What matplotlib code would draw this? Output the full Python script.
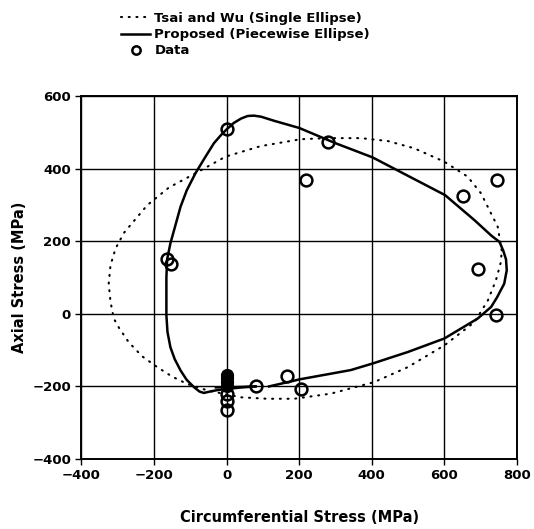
#!/usr/bin/env python
# coding:utf-8

"""
failure envelope: Tsai-Wu single ellipse vs proposed piecewise ellipse
"""

import matplotlib
matplotlib.use("Agg")
import matplotlib.pyplot as plt

# Tsai and Wu (single ellipse)
tsai_x = [758, 747, 701, 664, 600, 517, 444, 370, 278, 204, 94, -3, -86, -159,
          -219, -283, -306, -320, -325, -320, -311, -297, -270, -233, -191,
          -150, -109, -53, 39, 112, 186, 287, 407, 499, 600, 683, 720, 742,
          756, 758]
tsai_y = [175, 240, 332, 378, 419, 456, 476, 484, 484, 481, 462, 433, 387, 348,
          299, 223, 180, 134, 83, 33, -13, -38, -78, -117, -147,
          -173, -193, -211, -230, -234, -234, -220, -188, -147, -87, -23, 37, 92,
          143, 175]

# proposed (piecewise ellipse)
prop_x = [80, 40, 0, -25, -45, -63, -75, -90, -110, -127, -143, -155, -163,
          -166, -166, -164, -155, -145, -127, -110, -86, -60, -35, -15, 2, 20,
          40, 58, 75, 95, 130, 200, 300, 402, 500, 602, 683, 730, 752, 762,
          770, 772, 765, 745, 729, 692, 600, 500, 402, 342, 287, 204, 117]
prop_y = [-200, -203, -207, -210, -214, -218, -214, -202, -182, -156, -125, -92,
          -50, -4, 100, 150, 194, 230, 295, 340, 387, 430, 470, 493, 510, 526,
          538, 545, 546, 543, 532, 512, 470, 431, 380, 327, 258, 215, 198, 175,
          150, 120, 83, 45, 19, -13, -68, -105, -137, -155, -165, -180, -200]

# test data
data_x = [2, 278, 218, 652, 745, 692, 742, -164, -153, 80, 167, 204, 0, 0, 0]
data_y = [510, 474, 368, 324, 370, 124, -2, 150, 137, -200, -170, -206,
          -222, -240, -264]
# overlapping points near the origin of the hoop axis
dense_x = [0, 0, 0, 0]
dense_y = [-168, -178, -188, -198]

xticks = [-400, -200, 0, 200, 400, 600, 800]
yticks = [-400, -200, 0, 200, 400, 600]


def main():
    fig = plt.figure(figsize=(5.34, 5.29), dpi=100)
    ax = fig.add_axes([0.1526, 0.1323, 0.8154, 0.6862])

    l1, = ax.plot(tsai_x, tsai_y, color="black", lw=1.5,
                  linestyle=(0, (0.5, 3.2)), dash_capstyle="round")
    l2, = ax.plot(prop_x, prop_y, color="black", lw=1.8)
    ax.plot([-30, 80], [-203, -200], color="black", lw=1.6)
    l3, = ax.plot(data_x, data_y, "o", mfc="none", mec="black", ms=8.5,
                  mew=1.8)
    ax.plot(dense_x, dense_y, "o", color="black", ms=8.5)

    ax.set_xlim(-400, 800)
    ax.set_ylim(-400, 600)
    ax.set_xticks(xticks)
    ax.set_yticks(yticks)
    ax.grid(True, color="black", lw=1.0)
    ax.tick_params(length=4, width=1, labelsize=9.5, direction="out")
    for lab in ax.get_xticklabels() + ax.get_yticklabels():
        lab.set_fontweight("bold")
    for s in ax.spines.values():
        s.set_linewidth(1.4)

    ax.set_xlabel("Circumferential Stress (MPa)", fontsize=10.5,
                  fontweight="bold", labelpad=20)
    ax.set_ylabel("Axial Stress (MPa)", fontsize=10.5, fontweight="bold",
                  labelpad=4)

    leg = fig.legend([l1, l2, l3],
                     ["Tsai and Wu (Single Ellipse)",
                      "Proposed (Piecewise Ellipse)",
                      "Data"],
                     loc="upper left", bbox_to_anchor=(0.205, 1.0),
                     frameon=False, prop={"weight": "bold", "size": 9.5},
                     handlelength=2.2, handletextpad=0.3, labelspacing=0.25)
    leg.legend_handles[2].set_markersize(6)

    fig.savefig("out.png", dpi=100)


if __name__ == "__main__":
    main()
